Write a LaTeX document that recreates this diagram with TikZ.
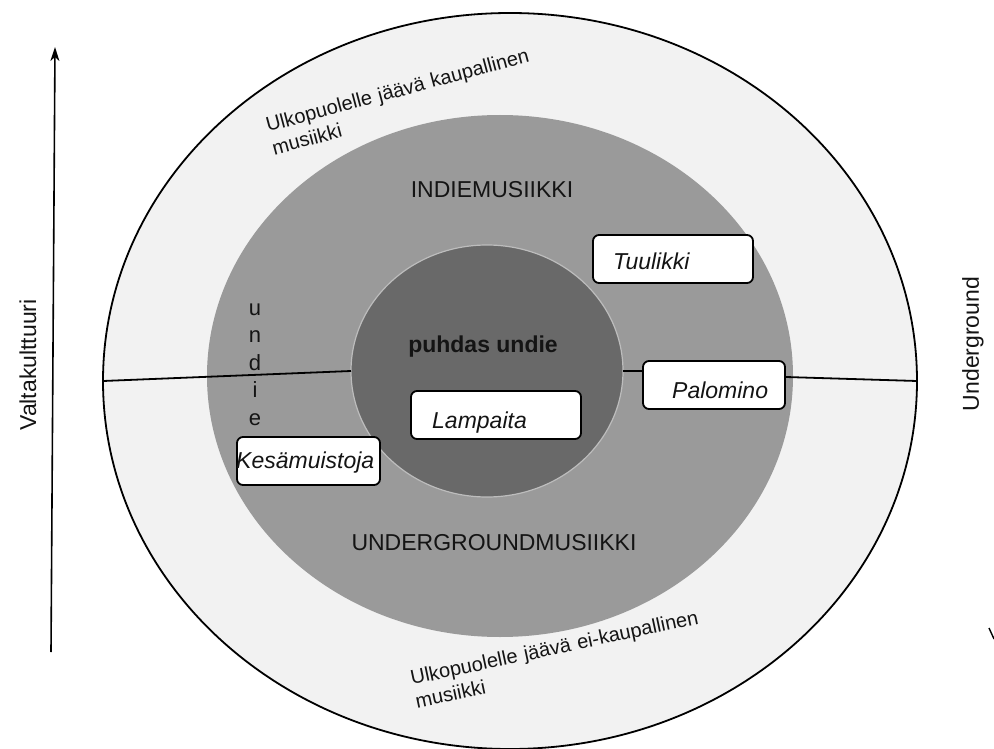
\documentclass[tikz,border=0pt]{standalone}
\usepackage{fontspec}
\setmainfont{Liberation Sans}
\usetikzlibrary{shapes.geometric,arrows.meta,calc}
\definecolor{outerfill}{HTML}{F2F2F2}
\definecolor{midfill}{HTML}{9A9A9A}
\definecolor{innerfill}{HTML}{696969}
\definecolor{innerrim}{HTML}{BDBDBD}
\definecolor{ink}{HTML}{141414}
\begin{document}
\begin{tikzpicture}[x=1pt,y=-1pt,
  ring/.style={ellipse, inner sep=0pt, outer sep=0pt},
  musicbox/.style={draw=black, fill=white, line width=1.8pt, rounded corners=6pt,
    minimum width=#1, minimum height=48pt, inner sep=0pt},
  boxlabel/.style={font=\fontsize{23}{27}\selectfont\itshape, text=ink, inner sep=0pt, anchor=base west},
  big/.style={font=\fontsize{23}{27}\selectfont, text=ink, inner sep=0pt},
  side/.style={font=\fontsize{20}{24}\selectfont, text=ink, inner sep=0pt,
    text width=340pt, align=left, anchor=base west},
  divider/.style={line width=1.8pt}
]
\useasboundingbox (0,0) rectangle (994,749);

% rings
\node[ring, draw=black, line width=1.8pt, fill=outerfill,
      minimum width=814pt, minimum height=736pt] (outer) at (510,381) {};
\node[ring, fill=midfill, minimum width=586pt, minimum height=522pt] (middle) at (500,376) {};
\node[ring, fill=innerfill, draw=innerrim, line width=1.2pt,
      minimum width=272pt, minimum height=252pt] (inner) at (487,371) {};

% coordinates of the boxes
\coordinate (tuulc) at (673,259);
\coordinate (palc) at (714,385);
\coordinate (lampc) at (496,415);
\coordinate (kesac) at (308.5,461);

% divider line (drawn before the boxes so they cover its ends)
\path (palc) node[musicbox=142pt, draw=none, fill=none] (palref) {};
\draw[divider] (outer.west) -- (inner.west);
\draw[divider] (inner.east) -- (inner.east -| palref.west);
\draw[divider] ($(palref.east)+(0,-8)$) -- (outer.east);

% boxes
\node[musicbox=160pt] (tuul) at (tuulc) {};
\node[musicbox=142pt] (pal) at (palc) {};
\node[musicbox=170pt] (lamp) at (lampc) {};
\node[musicbox=143pt] (kesa) at (kesac) {};

% box labels
\node[boxlabel] (tuultext) at (613,269) {Tuulikki};
\node[boxlabel] (paltext) at (672,398) {Palomino};
\node[boxlabel] (lamptext) at (432,428) {Lampaita};
\node[boxlabel] (kesatext) at (236,468) {Kesämuistoja};

% ring labels
\node[big, anchor=base] (indie) at (492,197) {INDIEMUSIIKKI};
\node[big, anchor=base] (under) at (494,550) {UNDERGROUNDMUSIIKKI};
\node[big, anchor=base, font=\fontsize{23}{27}\selectfont\bfseries] (puhdas) at (483,352) {puhdas undie};
\node[inner sep=0pt, text=ink, font=\fontsize{22}{27.5}\selectfont, text width=20pt, align=center, anchor=base]
  (undie) at (255,315) {u\\n\\d\\i\\e};

\node[side, rotate=15] (toptext) at (268,132) {Ulkopuolelle jäävä kaupallinen\\musiikki};
\node[side, rotate=12] (bottext) at (412,685) {Ulkopuolelle jäävä ei-kaupallinen\\musiikki};

% side axes
\node[big, rotate=90] (valta) at (28,365) {Valtakulttuuri};
\node[big, rotate=90] (ug) at (973,344) {Underground};
\coordinate (abot) at (51,652);
\coordinate (atop) at (55,47);
\draw[line width=1.6pt, -{Stealth[length=14pt,width=9pt,inset=4pt]}] (abot) -- (atop);
\coordinate (m1) at (989,628);
\coordinate (m2) at (994,639);
\draw[line width=1.4pt] (m1) -- (m2);
\end{tikzpicture}
\end{document}
